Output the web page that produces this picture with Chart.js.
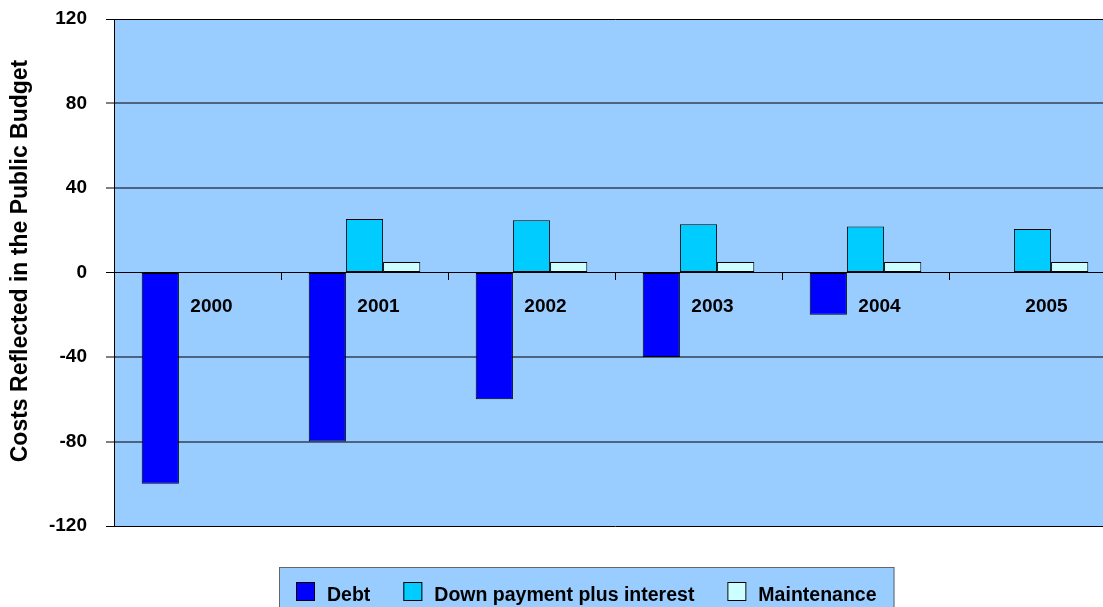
<!DOCTYPE html>
<html>
<head>
<meta charset="utf-8">
<script src="https://cdn.jsdelivr.net/npm/chart.js@4.4.0/dist/chart.umd.min.js"></script>
<style>
html, body { margin: 0; padding: 0; background: #fff; overflow: hidden; }
canvas { display: block; }
</style>
</head>
<body>
<canvas id="c" width="1120" height="607"></canvas>
<script>
const years = ['2000', '2001', '2002', '2003', '2004', '2005'];
const debt = [-100, -80, -60, -40, -20, 0];
const downPayment = [0, 25.3, 24.7, 22.8, 21.8, 20.6];
const maintenance = [0, 5, 5, 5, 5, 5];
const yTicks = [-120, -80, -40, 0, 40, 80, 120];
const yTitle = 'Costs Reflected in the Public Budget';

const FONT = '"Liberation Sans", Arial, sans-serif';

// blue plot background
const plotBg = {
  id: 'plotBg',
  beforeDraw(chart) {
    const { ctx, chartArea: a } = chart;
    ctx.save();
    ctx.fillStyle = '#99CCFF';
    ctx.fillRect(a.left, a.top, a.right - a.left, a.bottom - a.top);
    ctx.restore();
  },
};

// rotated axis title + boxed legend, placed like the excel chart
const extras = {
  id: 'extras',
  afterDraw(chart) {
    const ctx = chart.ctx;
    ctx.save();
    ctx.translate(21, 261);
    ctx.rotate(-Math.PI / 2);
    ctx.font = 'bold 23px ' + FONT;
    ctx.fillStyle = '#000';
    ctx.textAlign = 'center';
    ctx.textBaseline = 'middle';
    ctx.fillText(yTitle, 0, 0);
    ctx.restore();

    ctx.save();
    ctx.font = 'bold 19.5px ' + FONT;
    const sw = 19, gapText = 12, gapItem = 33, padL = 17, padR = 18;
    const items = chart.data.datasets.map(d => ({
      label: d.label,
      color: d.backgroundColor,
      w: ctx.measureText(d.label).width,
    }));
    let total = padL + padR;
    items.forEach((it, i) => {
      total += sw + gapText + it.w + (i < items.length - 1 ? gapItem : 0);
    });
    const left = Math.round(586.5 - total / 2), top = 567;
    ctx.fillStyle = '#99CCFF';
    ctx.fillRect(left, top, total, 60);
    ctx.strokeStyle = '#666';
    ctx.lineWidth = 1;
    ctx.strokeRect(left + 0.5, top + 0.5, total - 1, 60);
    let x = left + padL;
    items.forEach(it => {
      ctx.fillStyle = it.color;
      ctx.fillRect(x, 582, sw, sw);
      ctx.strokeStyle = '#000';
      ctx.strokeRect(x + 0.5, 582.5, sw - 1, sw - 1);
      ctx.fillStyle = '#000';
      ctx.textAlign = 'left';
      ctx.textBaseline = 'alphabetic';
      ctx.fillText(it.label, x + sw + gapText, 600.5);
      x += sw + gapText + it.w + gapItem;
    });
    ctx.restore();
  },
};

new Chart(document.getElementById('c'), {
  type: 'bar',
  data: {
    labels: years,
    datasets: [
      { label: 'Debt', data: debt, backgroundColor: '#0000FF' },
      { label: 'Down payment plus interest', data: downPayment, backgroundColor: '#00CCFF' },
      { label: 'Maintenance', data: maintenance, backgroundColor: '#CCFFFF' },
    ],
  },
  options: {
    responsive: false,
    animation: false,
    events: [],
    layout: { padding: { left: 0, top: 19, right: 4, bottom: 81 } },
    datasets: {
      bar: {
        borderColor: '#000',
        borderWidth: 1,
        borderSkipped: false,
        categoryPercentage: 0.668,
        barPercentage: 1,
      },
    },
    plugins: {
      legend: { display: false },
      tooltip: { enabled: false },
    },
    scales: {
      x: {
        position: { y: 0 },
        grid: {
          offset: true,
          drawOnChartArea: false,
          drawTicks: true,
          tickLength: 7,
          color: '#000',
        },
        border: { color: '#000', width: 1 },
        ticks: {
          color: '#000',
          font: { family: FONT, size: 19, weight: 'bold' },
          padding: 16,
          labelOffset: 14,
          maxRotation: 0,
        },
        afterFit(scale) {
          scale.paddingLeft = 0;
          scale.paddingRight = 0;
        },
      },
      y: {
        min: -120,
        max: 120,
        afterBuildTicks(scale) {
          scale.ticks = yTicks.map(v => ({ value: v }));
        },
        grid: {
          color: c => (Math.abs(c.tick.value) === 120 || c.tick.value === 0 ? '#000' : '#4d6480'),
          lineWidth: c => (Math.abs(c.tick.value) === 120 || c.tick.value === 0 ? 1 : 2),
          tickColor: '#000',
          tickWidth: 1,
          tickLength: 8,
        },
        border: { color: '#000', width: 1 },
        ticks: {
          color: '#000',
          font: { family: FONT, size: 19, weight: 'bold' },
          padding: 19,
        },
        afterFit(scale) {
          scale.width = 114;
          scale.paddingTop = 0;
          scale.paddingBottom = 0;
        },
      },
    },
  },
  plugins: [plotBg, extras],
});
</script>
</body>
</html>
